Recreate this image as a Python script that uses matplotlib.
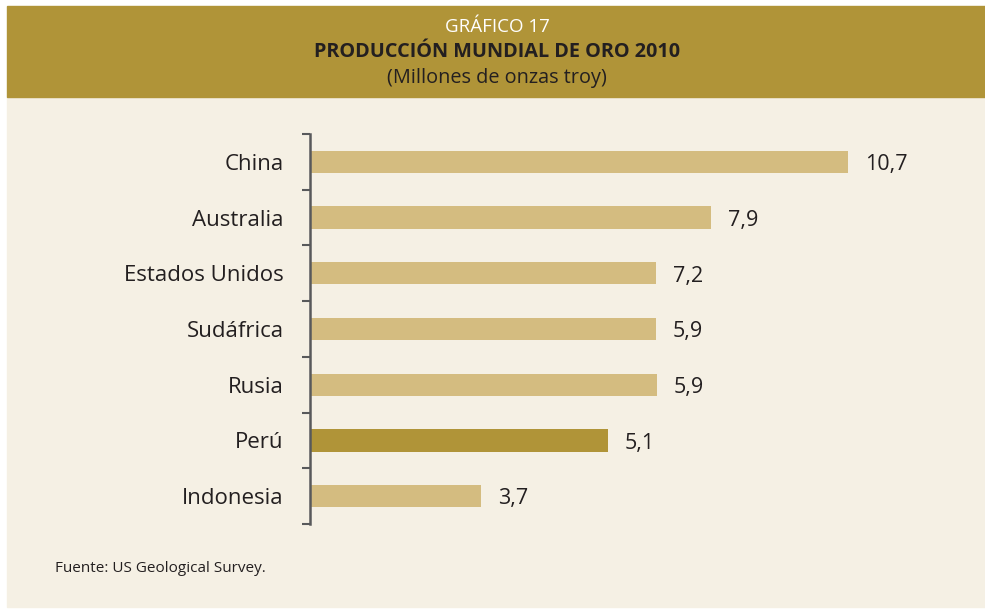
import matplotlib.pyplot as plt
from matplotlib.patches import Rectangle
from matplotlib.ticker import FixedLocator

# Data
countries = ['China', 'Australia', 'Estados Unidos', 'Sudáfrica', 'Rusia', 'Perú', 'Indonesia']
# printed values (labels)
value_labels = ['10,7', '7,9', '7,2', '5,9', '5,9', '5,1', '3,7']
# bar lengths as drawn in the reference (same units, measured from the bars)
bar_lengths = [10.7, 7.97, 6.88, 6.88, 6.9, 5.92, 3.4]
highlight = 'Perú'

HEADER = '#B09438'
BAR = '#D4BC80'
BG = '#F5F0E4'
TEXT = '#231F20'
SPINE = '#58595B'

plt.rcParams['font.family'] = ['Open Sans', 'DejaVu Sans']

fig = plt.figure(figsize=(9.85, 6.11), dpi=100)
fig.patch.set_facecolor('white')

# background panels
fig.add_artist(Rectangle((7 / 985, 1 - 607 / 611), 978 / 985, 510 / 611,
                         transform=fig.transFigure, color=BG, zorder=0))
fig.add_artist(Rectangle((7 / 985, 1 - 97 / 611), 978 / 985, 91 / 611,
                         transform=fig.transFigure, color=HEADER, zorder=0))

# header text
fig.text(0.505, 1 - 27 / 611, 'GRÁFICO 17', ha='center', va='center',
         color='white', fontsize=13.5)
fig.text(0.505, 1 - 52 / 611, 'PRODUCCIÓN MUNDIAL DE ORO 2010', ha='center', va='center',
         color=TEXT, fontsize=14.3, fontweight='bold')
fig.text(0.505, 1 - 78 / 611, '(Millones de onzas troy)', ha='center', va='center',
         color=TEXT, fontsize=14.3)

ax = fig.add_axes([310 / 985, 87 / 611, 640 / 985, 390 / 611])
ax.set_facecolor('none')

y = list(range(len(countries)))
colors = [HEADER if c == highlight else BAR for c in countries]
ax.barh(y, bar_lengths, height=0.4, color=colors, zorder=2)

for yi, length, lab in zip(y, bar_lengths, value_labels):
    ax.annotate(lab, (length, yi), xytext=(12, -2), textcoords='offset points',
                ha='left', va='center', fontsize=15.5, color=TEXT)

ax.set_xlim(0, 640 / 50.3)
ax.set_ylim(len(countries) - 0.5, -0.5)

ax.set_yticks(y)
ax.set_yticklabels(countries, fontsize=16, color=TEXT)
ax.tick_params(axis='y', which='major', length=0, pad=19)
ax.yaxis.set_minor_locator(FixedLocator([i - 0.5 for i in range(len(countries) + 1)]))
ax.tick_params(axis='y', which='minor', length=6, width=1.5, color=SPINE, direction='out')
ax.set_xticks([])

for side in ['top', 'right', 'bottom']:
    ax.spines[side].set_visible(False)
ax.spines['left'].set_color(SPINE)
ax.spines['left'].set_linewidth(1.8)

fig.text(55 / 985, 1 - 568 / 611, 'Fuente: US Geological Survey.', ha='left', va='center',
         color=TEXT, fontsize=11)

fig.savefig('out.png', dpi=100, facecolor=fig.get_facecolor())
